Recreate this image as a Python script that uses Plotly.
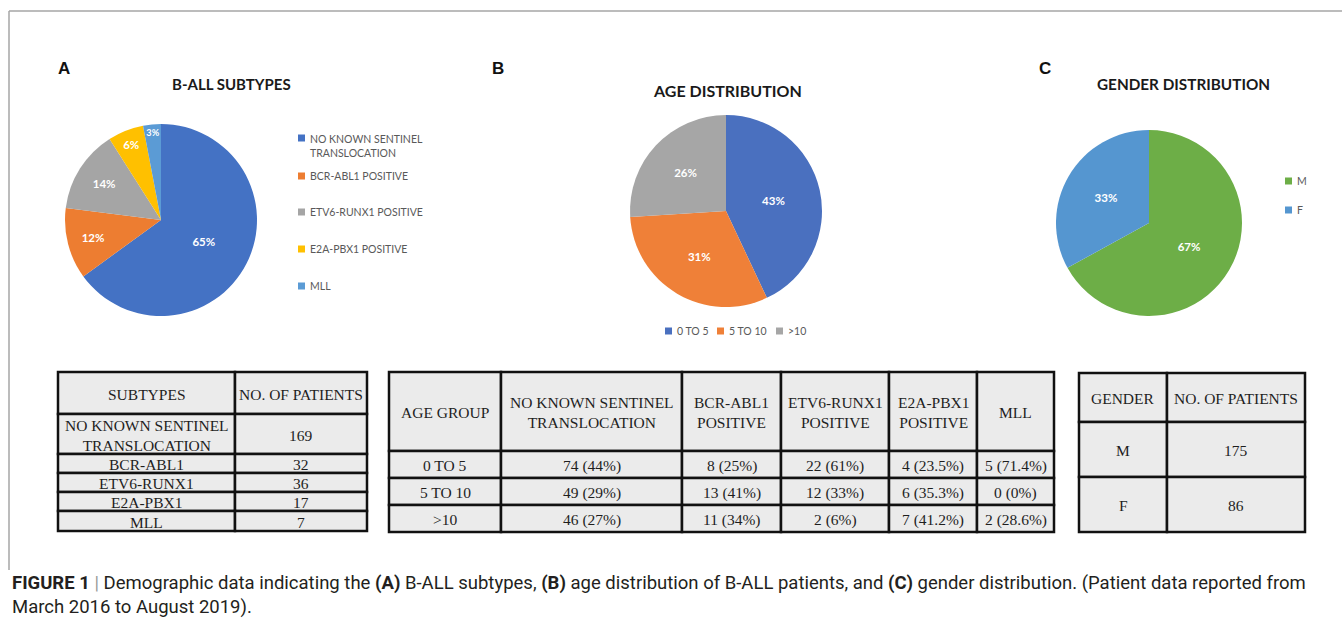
import plotly.graph_objects as go

# ---------------- data ----------------
subtype_labels = ["NO KNOWN SENTINEL<br>TRANSLOCATION", "BCR-ABL1 POSITIVE",
                  "ETV6-RUNX1 POSITIVE", "E2A-PBX1 POSITIVE", "MLL"]
subtype_pct = [65, 12, 14, 6, 3]
subtype_colors = ["#4472C4", "#ED7D31", "#A5A5A5", "#FFC000", "#5B9BD5"]

age_labels = ["0 TO 5", "5 TO 10", ">10"]
age_pct = [43, 31, 26]
age_colors = ["#4A70BF", "#EF8038", "#A6A6A6"]

gender_labels = ["M", "F"]
gender_pct = [67, 33]
gender_colors = ["#6DAE47", "#5596D0"]

tblA_header = ["SUBTYPES", "NO. OF PATIENTS"]
tblA_subtypes = ["NO KNOWN SENTINEL<br>TRANSLOCATION", "BCR-ABL1", "ETV6-RUNX1", "E2A-PBX1", "MLL"]
tblA_patients = ["169", "32", "36", "17", "7"]

tblB_header = ["AGE GROUP", "NO KNOWN SENTINEL<br>TRANSLOCATION", "BCR-ABL1<br>POSITIVE",
               "ETV6-RUNX1<br>POSITIVE", "E2A-PBX1<br>POSITIVE", "MLL"]
tblB_groups = ["0 TO 5", "5 TO 10", ">10"]
tblB_noknown = ["74 (44%)", "49 (29%)", "46 (27%)"]
tblB_bcr = ["8 (25%)", "13 (41%)", "11 (34%)"]
tblB_etv6 = ["22 (61%)", "12 (33%)", "2 (6%)"]
tblB_e2a = ["4 (23.5%)", "6 (35.3%)", "7 (41.2%)"]
tblB_mll = ["5 (71.4%)", "0 (0%)", "2 (28.6%)"]

tblC_header = ["GENDER", "NO. OF PATIENTS"]
tblC_gender = ["M", "F"]
tblC_patients = ["175", "86"]

# ---------------- layout helpers ----------------
W, H = 1342, 622
UI = "Lato, 'Open Sans', sans-serif"
SERIF = "'Liberation Serif', 'Times New Roman', serif"


def dom(cx, cy, r):
    return dict(x=[(cx - r) / W, (cx + r) / W], y=[1 - (cy + r) / H, 1 - (cy - r) / H])


fig = go.Figure()


def add_pie(labels, values, colors, domain):
    fig.add_trace(go.Pie(
        labels=labels, values=values, sort=False, direction="clockwise", rotation=0,
        marker=dict(colors=colors, line=dict(width=0)),
        texttemplate="<b>%{percent:.0%}</b>", textposition="inside",
        insidetextorientation="horizontal",
        textfont=dict(color="white", size=11.5, family=UI),
        domain=domain, showlegend=False, hoverinfo="label+percent",
    ))


add_pie(subtype_labels, subtype_pct, subtype_colors, dom(161, 220, 96))
add_pie(age_labels, age_pct, age_colors, dom(726, 211, 96))
add_pie(gender_labels, gender_pct, gender_colors, dom(1149, 223, 93))

shapes = []
annotations = []


def text(x, y, s, size, color="#222", family=UI, xanchor="center", yanchor="middle", **kw):
    annotations.append(dict(x=x, y=y, xref="x", yref="y", text=s, showarrow=False,
                            font=dict(size=size, color=color, family=family),
                            xanchor=xanchor, yanchor=yanchor, **kw))


# frame lines
shapes.append(dict(type="line", xref="x", yref="y", x0=9, x1=W, y0=11, y1=11,
                   line=dict(color="#A6A6A6", width=1.5)))
shapes.append(dict(type="line", xref="x", yref="y", x0=9, x1=9, y0=11, y1=570,
                   line=dict(color="#A6A6A6", width=1.5)))

# panel letters & titles
for letter, x in zip(["A", "B", "C"], [64, 498, 1045]):
    text(x, 68, "<b>%s</b>" % letter, 17, color="#111", family="'Liberation Sans', Arial, sans-serif")
text(231, 84, "<b>B-ALL SUBTYPES</b>", 15, color="#1a1a1a")
text(727, 90, "<b>AGE DISTRIBUTION</b>", 16, color="#1a1a1a")
text(1183, 84, "<b>GENDER DISTRIBUTION</b>", 15.3, color="#1a1a1a")


# manual legends
def legend_item(x, y, color, label):
    shapes.append(dict(type="rect", xref="x", yref="y", x0=x, x1=x + 7, y0=y - 3.5, y1=y + 3.5,
                       fillcolor=color, line=dict(width=0)))
    text(x + 10, y, label, 10.5, color="#595959", xanchor="left",
         yanchor="top" if "<br>" in label else "middle",
         yshift=7 if "<br>" in label else 0, align="left")


for lab, col, y in zip(subtype_labels, subtype_colors, [138, 176, 212, 249, 286]):
    legend_item(298, y, col, lab)
for lab, col, x in zip(age_labels, age_colors, [665, 717, 776]):
    legend_item(x, 331, col, lab)
for lab, col, y in zip(gender_labels, gender_colors, [181, 210]):
    legend_item(1285, y, col, lab)


# tables
def draw_table(xe, ye, rows, size=15.5):
    for i, row in enumerate(rows):
        for j, cell in enumerate(row):
            shapes.append(dict(type="rect", xref="x", yref="y", x0=xe[j], x1=xe[j + 1],
                               y0=ye[i], y1=ye[i + 1], fillcolor="#EBEBEB",
                               line=dict(color="#111", width=2.5)))
            text((xe[j] + xe[j + 1]) / 2, (ye[i] + ye[i + 1]) / 2 + 1, cell, size,
                 color="#1e1e1e", family=SERIF)


rowsA = [tblA_header] + [list(r) for r in zip(tblA_subtypes, tblA_patients)]
draw_table([58, 235, 367], [372, 414, 454, 473, 492, 511, 531], rowsA)

rowsB = [tblB_header] + [list(r) for r in zip(tblB_groups, tblB_noknown, tblB_bcr,
                                               tblB_etv6, tblB_e2a, tblB_mll)]
draw_table([389, 501, 682, 781, 889, 977, 1054], [372, 451, 478, 505, 532], rowsB)

rowsC = [tblC_header] + [list(r) for r in zip(tblC_gender, tblC_patients)]
draw_table([1079, 1167, 1305], [373, 422, 477, 532], rowsC)

# caption
CAP = "Roboto, sans-serif"
text(10, 583, "<b>FIGURE 1</b> <span style='color:#999'>|</span> Demographic data indicating the "
     "<b>(A)</b> B-ALL subtypes, <b>(B)</b> age distribution of B-ALL patients, and "
     "<b>(C)</b> gender distribution. (Patient data reported from", 18.5,
     color="#231F20", family=CAP, xanchor="left")
text(10, 607, "March 2016 to August 2019).", 18.5, color="#231F20", family=CAP, xanchor="left")

fig.update_layout(
    width=W, height=H, margin=dict(l=0, r=0, t=0, b=0),
    paper_bgcolor="white", plot_bgcolor="rgba(0,0,0,0)",
    xaxis=dict(range=[0, W], visible=False, fixedrange=True, domain=[0, 1]),
    yaxis=dict(range=[H, 0], visible=False, fixedrange=True, domain=[0, 1]),
    shapes=shapes, annotations=annotations, showlegend=False,
)
fig.write_html("out.html", config={"displayModeBar": False},
               post_script="document.body.style.margin='0px';document.body.style.overflow='hidden';")
